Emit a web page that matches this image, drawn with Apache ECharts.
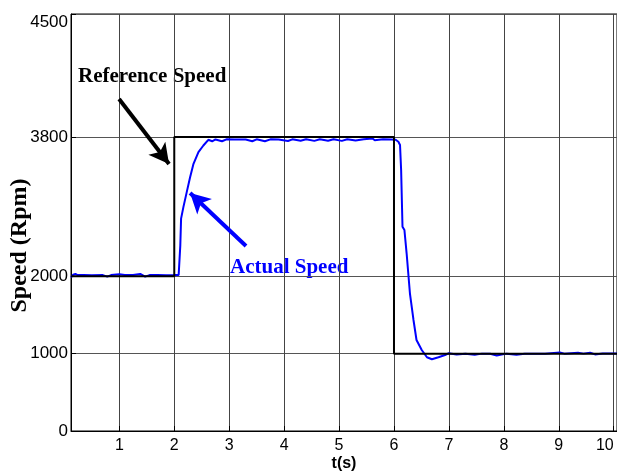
<!DOCTYPE html>
<html>
<head>
<meta charset="utf-8">
<script src="https://cdn.jsdelivr.net/npm/echarts@6/dist/echarts.min.js"></script>
<style>
  html, body { margin: 0; padding: 0; background: #fff; }
  #main { width: 617px; height: 476px; }
</style>
</head>
<body>
<div id="main"></div>
<script>
// axis ranges / ticks
var xMin = 0.12, xMax = 10.06;
var xTicks = [1, 2, 3, 4, 5, 6, 7, 8, 9, 10];
var yMax = 5390;
var yTickValues = [0, 1000, 2000, 3800, 5390];
var yTickLabels = ['0', '1000', '2000', '3800', '4500'];

// reference speed (step)
var refTime  = [0.12, 2.0, 2.0, 6.0, 6.0, 10.06];
var refSpeed = [2000, 2000, 3800, 3800, 1000, 1000];

// actual speed (measured)
var actTime = [0.12, 0.16, 0.2, 0.24, 0.35, 0.5, 0.7, 0.78, 0.85, 1.0, 1.1, 1.25, 1.38, 1.47, 1.55, 1.7, 1.85, 2.0, 2.08,
  2.11, 2.124, 2.166, 2.227, 2.288, 2.35, 2.44, 2.53, 2.62, 2.69, 2.75, 2.87, 2.95, 3.1, 3.3, 3.42, 3.5, 3.65, 3.75,
  3.9, 4.07, 4.15, 4.3, 4.4, 4.55, 4.65, 4.8, 4.9, 5.05, 5.15, 5.3, 5.45, 5.61, 5.65, 5.8, 5.95, 6.03, 6.08,
  6.11, 6.13, 6.155, 6.19, 6.23, 6.29, 6.355, 6.41, 6.505, 6.6, 6.69, 6.81, 6.93, 6.99, 7.14, 7.3, 7.47, 7.6,
  7.75, 7.87, 8.05, 8.23, 8.38, 8.55, 8.75, 9.02, 9.1, 9.35, 9.45, 9.57, 9.66, 9.8, 10.06];
var actSpeed = [1985, 2020, 2030, 2015, 2015, 2012, 2015, 1995, 2015, 2025, 2015, 2015, 2030, 1995, 2015, 2015, 2012, 2015, 2018,
  2400, 2745, 2894, 3088, 3281, 3454, 3604, 3690, 3764, 3745, 3768, 3745, 3770, 3768, 3768, 3745, 3770, 3745, 3770,
  3768, 3748, 3770, 3752, 3772, 3750, 3770, 3752, 3770, 3750, 3772, 3755, 3770, 3780, 3758, 3770, 3768, 3765, 3739,
  3697, 3373, 2641, 2598, 2297, 1780, 1435, 1176, 1047, 953, 927, 953, 982, 1004, 988, 1000, 985, 1000,
  998, 975, 1000, 985, 998, 1000, 998, 1015, 1000, 1012, 1000, 1012, 990, 1002, 1002];

function pairs(xs, ys) {
  var out = [];
  for (var i = 0; i < xs.length; i++) out.push([xs[i], ys[i]]);
  return out;
}

var myChart = echarts.init(document.getElementById('main'));
var option = {
  animation: false,
  backgroundColor: '#fff',
  textStyle: { fontFamily: 'Liberation Sans', fontSize: 16, color: '#000' },
  grid: {
    left: 71, right: 0, top: 14, bottom: 45,
    outerBoundsMode: 'none',
    show: true, borderColor: '#000', borderWidth: 1
  },
  xAxis: {
    type: 'value',
    min: xMin,
    max: xMax,
    name: 't(s)',
    nameLocation: 'middle',
    nameGap: 25,
    nameMoveOverlap: false,
    nameTextStyle: { fontFamily: 'Liberation Sans', fontWeight: 'bold', fontSize: 16, color: '#000' },
    axisLine: { onZero: false, lineStyle: { color: '#000', width: 1 } },
    axisTick: { inside: true, length: 5, customValues: xTicks, lineStyle: { color: '#000' } },
    axisLabel: {
      customValues: xTicks,
      fontFamily: 'Liberation Sans', fontSize: 16, color: '#000', margin: 7,
      // last label sits left of its tick (trailing spaces push it left)
      formatter: function (v) { return v === 10 ? '10    ' : String(v); }
    },
    splitLine: { show: true, lineStyle: { color: '#444', width: 1 } }
  },
  yAxis: {
    type: 'value',
    min: 0,
    max: yMax,
    name: 'Speed (Rpm)',
    nameLocation: 'middle',
    nameRotate: 90,
    nameGap: 39,
    nameMoveOverlap: false,
    nameTextStyle: {
      fontFamily: 'Liberation Serif', fontWeight: 'bold', fontSize: 24, color: '#000',
      padding: [0, 46, 0, 0]
    },
    axisLine: { show: true, lineStyle: { color: '#000', width: 1 } },
    axisTick: { inside: true, length: 5, customValues: yTickValues, lineStyle: { color: '#000' } },
    axisLabel: {
      customValues: yTickValues,
      fontFamily: 'Liberation Sans', fontSize: 17, color: '#000', margin: 3,
      verticalAlignMaxLabel: 'top',
      formatter: function (v) {
        var i = yTickValues.indexOf(v);
        return i >= 0 ? yTickLabels[i] : '';
      }
    },
    splitLine: { show: true, lineStyle: { color: '#555', width: 1 } }
  },
  series: [
    {
      name: 'Actual Speed',
      type: 'line',
      data: pairs(actTime, actSpeed),
      showSymbol: false,
      smooth: false,
      z: 2,
      lineStyle: { color: '#0000ff', width: 2 },
      markLine: {
        silent: true,
        symbol: ['none', 'arrow'],
        symbolSize: [16, 20],
        label: { show: false },
        lineStyle: { color: '#0000ff', width: 4, type: 'solid' },
        data: [[{ coord: [3.306, 2391] }, { coord: [2.288, 3076] }]]
      }
    },
    {
      name: 'Reference Speed',
      type: 'line',
      data: pairs(refTime, refSpeed),
      showSymbol: false,
      z: 3,
      lineStyle: { color: '#000', width: 2 },
      markLine: {
        silent: true,
        symbol: ['none', 'arrow'],
        symbolSize: [16, 20],
        label: { show: false },
        lineStyle: { color: '#000', width: 4, type: 'solid' },
        data: [[{ coord: [0.995, 4291] }, { coord: [1.905, 3451] }]]
      }
    }
  ],
  graphic: [
    {
      type: 'text', x: 78, y: 77,
      style: { text: 'Reference Speed', font: 'bold 21px "Liberation Serif"', fill: '#000', verticalAlign: 'middle' }
    },
    {
      type: 'text', x: 230, y: 268,
      style: { text: 'Actual Speed', font: 'bold 21px "Liberation Serif"', fill: '#0000ff', verticalAlign: 'middle' }
    }
  ]
};
myChart.setOption(option);
</script>
</body>
</html>
